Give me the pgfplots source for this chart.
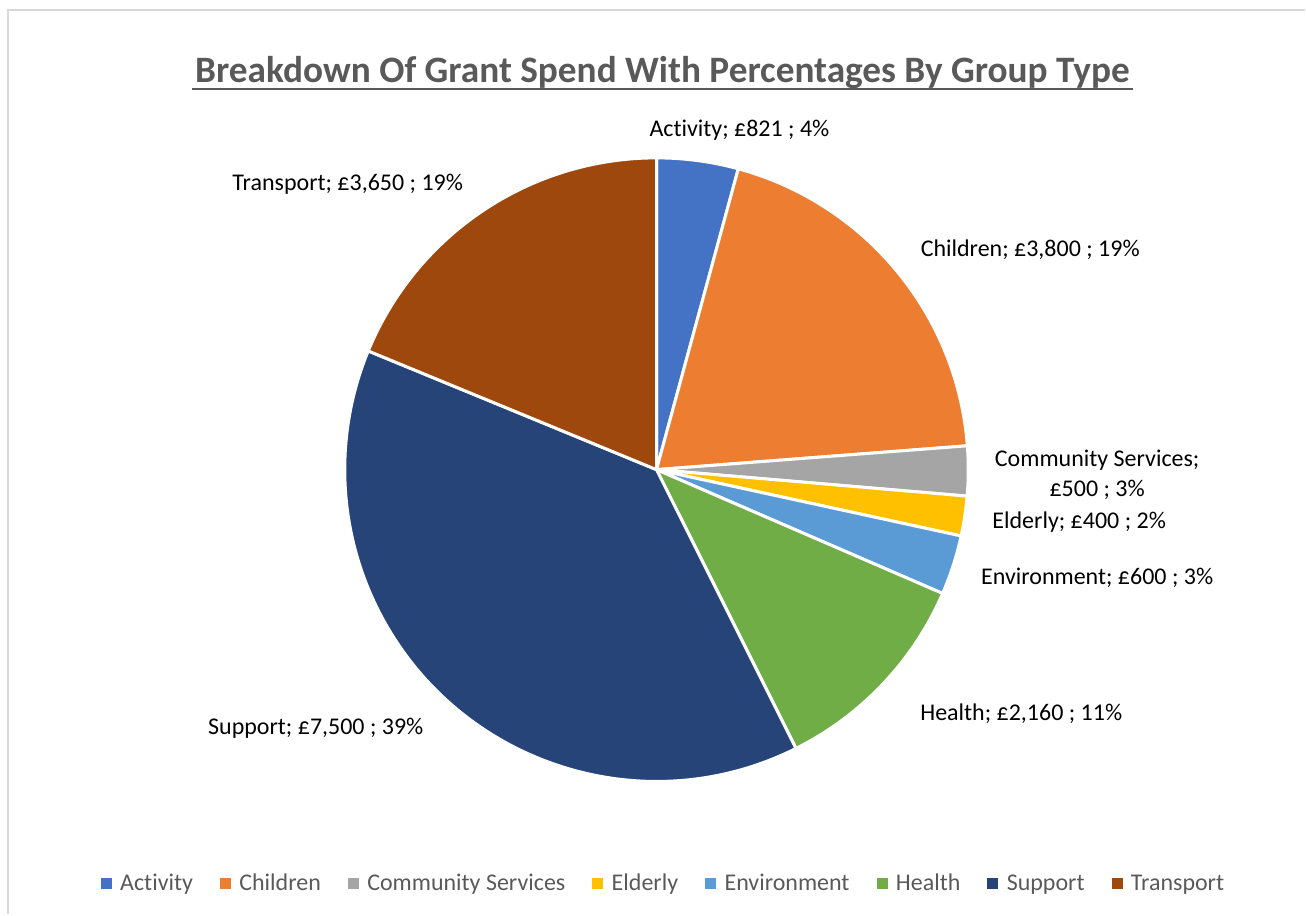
\documentclass[border=0pt]{standalone}
\usepackage{pgfplots}
\pgfplotsset{compat=1.18}
\usepackage{pgfplotstable}
\usepackage{fontspec}
\setmainfont{Carlito}[Ligatures=NoCommon]
\usepackage{xcolor}
\definecolor{actC}{HTML}{4472C4}
\definecolor{chiC}{HTML}{ED7D31}
\definecolor{comC}{HTML}{A5A5A5}
\definecolor{eldC}{HTML}{FFC000}
\definecolor{envC}{HTML}{5B9BD5}
\definecolor{heaC}{HTML}{70AD47}
\definecolor{supC}{HTML}{264478}
\definecolor{traC}{HTML}{9E480E}
\definecolor{titleGrey}{HTML}{595959}
\definecolor{frameGrey}{HTML}{D9D9D9}

% grant spend by group type (GBP)
\pgfplotstableread[col sep=comma]{
name,value,colour
Activity,821,actC
Children,3800,chiC
Community Services,500,comC
Elderly,400,eldC
Environment,600,envC
Health,2160,heaC
Support,7500,supC
Transport,3650,traC
}\grantdata

\pgfplotsset{
  sq/.style={legend image code/.code={\fill[#1] (0pt,-5pt) rectangle (10pt,5pt);
    \path (17pt,0pt);}},
}

\begin{document}
\begin{tikzpicture}
% total of the spend, in thousands (pgfmath overflows above 16383)
\pgfplotstablegetrowsof{\grantdata}
\pgfmathtruncatemacro\nlast{\pgfplotsretval-1}
\def\total{0}
\pgfplotsforeachungrouped \i in {0,...,\nlast}{%
  \pgfplotstablegetelem{\i}{value}\of\grantdata
  \pgfmathsetmacro\total{\total+\pgfplotsretval/1000}%
}
\begin{axis}[
  x=1pt, y=1pt,
  xmin=0, xmax=1306, ymin=0, ymax=915,
  hide axis, clip=false,
  legend columns=-1,
  legend style={at={(axis cs:664,31)}, anchor=center, draw=none, fill=none,
    font=\fontsize{24}{28}\selectfont, text=titleGrey,
    /tikz/every even column/.append style={column sep=25pt}},
]
\path (axis cs:0,0) rectangle (axis cs:1306,915);
\draw[frameGrey, line width=2pt] (axis cs:8,0) -- (axis cs:8,905) -- (axis cs:1306,905);

% slices, clockwise from twelve o'clock
\def\astart{90}
\pgfplotsforeachungrouped \i in {0,...,\nlast}{%
  \pgfplotstablegetelem{\i}{value}\of\grantdata \let\v\pgfplotsretval
  \pgfplotstablegetelem{\i}{colour}\of\grantdata \let\c\pgfplotsretval
  \pgfmathsetmacro\aend{\astart-360*(\v/1000)/\total}%
  \edef\temp{\noexpand\fill[\c, draw=white, line width=3pt, line join=round]
    (axis cs:657,445) -- ++(\astart:312pt)
    arc[start angle=\astart, end angle=\aend, radius=312pt] -- cycle;}%
  \temp
  \let\astart\aend
}

% title
\node[font=\fontsize{37.3}{41}\selectfont\bfseries, text=titleGrey] (T) at (axis cs:663,842)
  {Breakdown Of Grant Spend With Percentages By Group Type};
\draw[titleGrey, line width=2.5pt] ([yshift=-6pt]T.base west) -- ([yshift=-6pt]T.base east);

% data labels
\begin{scope}[every node/.style={font=\fontsize{24}{30}\selectfont, text=black}]
\node at (axis cs:740,785) {Activity; £821 ; 4\%};
\node at (axis cs:1031,665) {Children; £3,800 ; 19\%};
\node[align=center] at (axis cs:1098,440) {Community Services;\\£500 ; 3\%};
\node at (axis cs:1080,392) {Elderly; £400 ; 2\%};
\node at (axis cs:1098,337) {Environment; £600 ; 3\%};
\node at (axis cs:1022,201) {Health; £2,160 ; 11\%};
\node at (axis cs:316,186) {Support; £7,500 ; 39\%};
\node at (axis cs:348,731) {Transport; £3,650 ; 19\%};
\end{scope}

\addlegendimage{sq=actC}
\addlegendimage{sq=chiC}
\addlegendimage{sq=comC}
\addlegendimage{sq=eldC}
\addlegendimage{sq=envC}
\addlegendimage{sq=heaC}
\addlegendimage{sq=supC}
\addlegendimage{sq=traC}
\legend{Activity,Children,Community Services,Elderly,Environment,Health,Support,Transport}
\end{axis}
\end{tikzpicture}
\end{document}
